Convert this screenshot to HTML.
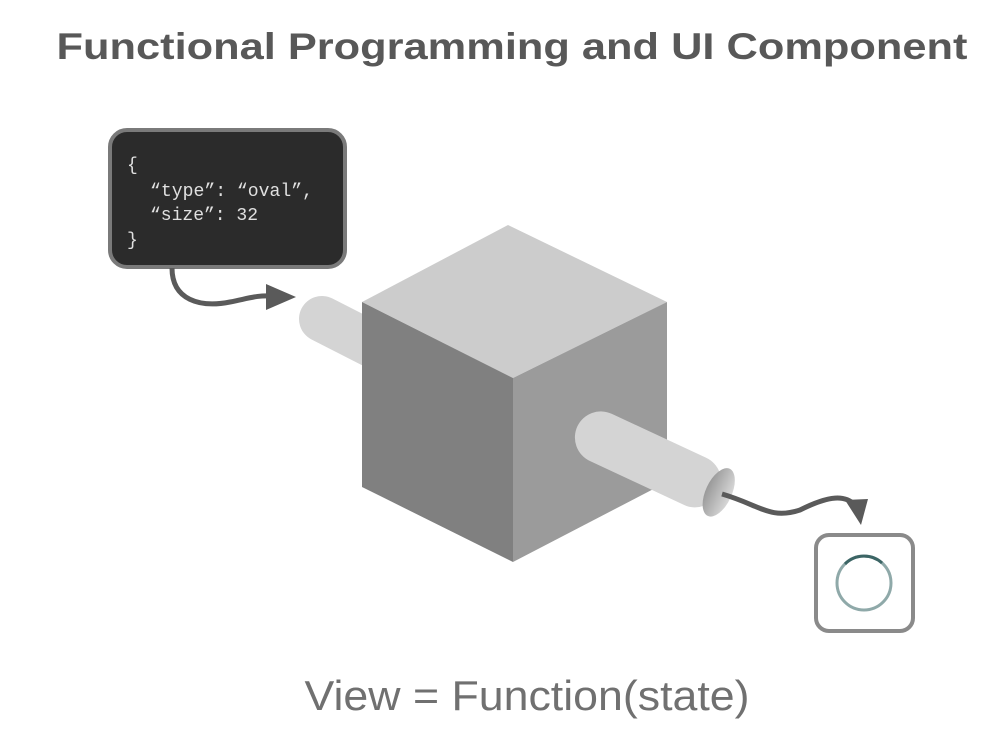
<!DOCTYPE html>
<html><head><style>html,body{margin:0;padding:0;background:#fff}svg{display:block}</style></head>
<body>
<svg width="1008" height="749" viewBox="0 0 1008 749" xmlns="http://www.w3.org/2000/svg">
<defs>
<linearGradient id="cap" x1="0" y1="0" x2="1" y2="0">
<stop offset="0" stop-color="#999"/><stop offset="1" stop-color="#d8d8d8"/></linearGradient>
</defs>
<text x="512" y="59" text-anchor="middle" font-family="Liberation Sans, sans-serif" font-weight="bold" font-size="37" fill="#585858" textLength="911" lengthAdjust="spacingAndGlyphs">Functional Programming and UI Component</text>

<g transform="translate(322,319) rotate(27)">
<rect x="-23" y="-23" width="120" height="46" rx="23" fill="#d4d4d4"/>
</g>

<polygon points="508,225 667,302 513,378 362,302" fill="#cccccc"/>
<polygon points="362,302 513,378 513,562 362,487" fill="#808080"/>
<polygon points="513,378 667,302 667,482 513,562" fill="#9b9b9b"/>

<g transform="translate(600,437) rotate(25)">
<rect x="-25" y="-26" width="156" height="52" rx="26" fill="#d4d4d4"/>
<ellipse cx="131" cy="0" rx="13" ry="26" fill="url(#cap)"/>
</g>

<rect x="110" y="130" width="235" height="137" rx="17" fill="#2b2b2b" stroke="#7a7a7a" stroke-width="4"/>
<g font-family="Liberation Mono, DejaVu Sans Mono, monospace" font-size="18" fill="#e0e0e0">
<text x="127" y="170">{</text>
<text x="150" y="196" textLength="163" lengthAdjust="spacingAndGlyphs">“type”: “oval”,</text>
<text x="150" y="220" textLength="108" lengthAdjust="spacingAndGlyphs">“size”: 32</text>
<text x="127" y="245">}</text>
</g>

<path d="M172,268 C172,300 200,308 230,302 C250,298 258,295 272,296" fill="none" stroke="#5a5a5a" stroke-width="5"/>
<polygon points="266,284 296,297 266,310" fill="#5a5a5a"/>

<path d="M722,494 C760,505 770,520 800,510 C830,495 845,495 855,505" fill="none" stroke="#5a5a5a" stroke-width="5"/>
<polygon points="845,500 868,499 861,525" fill="#5a5a5a"/>

<rect x="816" y="535" width="97" height="96" rx="13" fill="#fff" stroke="#8a8a8a" stroke-width="4"/>
<circle cx="864" cy="583" r="27" fill="none" stroke="#8fa9a9" stroke-width="3"/>
<path d="M845,564 A27,27 0 0 1 882,563" fill="none" stroke="#3c6565" stroke-width="3"/>

<text x="527" y="710" text-anchor="middle" font-family="Liberation Sans, sans-serif" font-size="42" fill="#707070" textLength="445" lengthAdjust="spacingAndGlyphs">View = Function(state)</text>
</svg>
</body></html>
